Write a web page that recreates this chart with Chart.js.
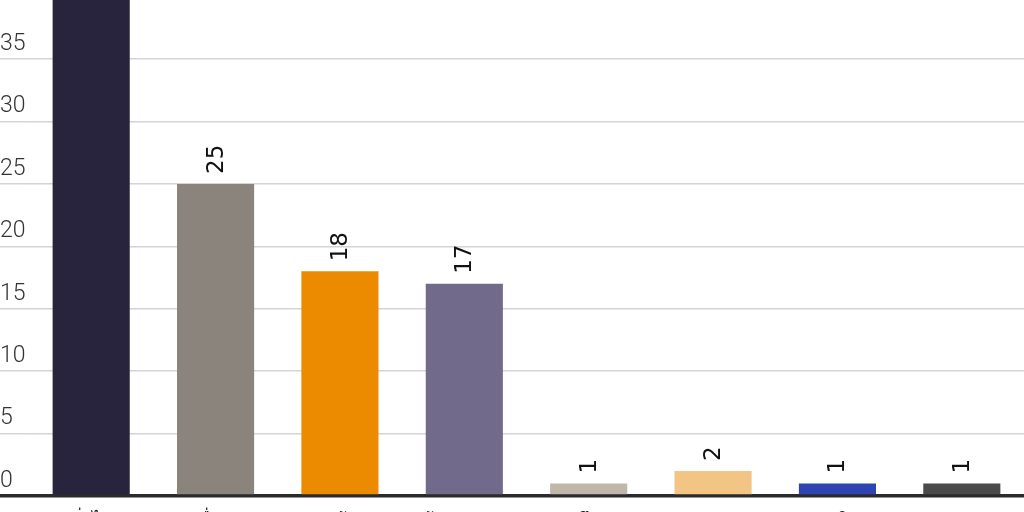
<!DOCTYPE html>
<html>
<head>
<meta charset="utf-8">
<script src="https://cdn.jsdelivr.net/npm/chart.js@4"></script>
<style>
  html, body { margin: 0; padding: 0; background: #fff; }
  #wrap { width: 1024px; height: 512px; overflow: hidden; }
</style>
</head>
<body>
<div id="wrap"><canvas id="barChart" width="1024" height="512"></canvas></div>
<script>
// categories (bottom labels are mostly cut off in the picture)
const categories = ['ทั่วไป', 'อื่นๆ', 'ลูกจ้าง', 'ข้าราชการ', 'นักศึกษา', 'เกษตรกร', 'ธุรกิจ', 'ว่างงาน'];
// first bar runs off the top of the picture, its value is a guess
const counts = [46, 25, 18, 17, 1, 2, 1, 1];
const barColors = ['#29243d', '#8b847c', '#ec8b00', '#716a8a', '#c0b6aa', '#f2c584', '#2e44b2', '#4a4a4a'];
const yTicks = [0, 5, 10, 15, 20, 25, 30, 35];
const yTop = 39.74;

// value labels, turned on their side above every bar
const valueLabels = {
    id: 'valueLabels',
    afterDatasetsDraw(chart) {
        const ctx = chart.ctx;
        const meta = chart.getDatasetMeta(0);
        ctx.save();
        ctx.font = '23px "DejaVu Sans", sans-serif';
        ctx.fillStyle = '#111';
        ctx.textAlign = 'left';
        ctx.textBaseline = 'middle';
        meta.data.forEach((bar, i) => {
            ctx.save();
            ctx.translate(bar.x + 1, bar.y - 10);
            ctx.rotate(-Math.PI / 2);
            ctx.fillText(String(counts[i]), 0, 0);
            ctx.restore();
        });
        ctx.restore();
    }
};

const isZero = (c) => c.tick && c.tick.value === 0;

new Chart(document.getElementById('barChart'), {
    type: 'bar',
    data: {
        labels: categories,
        datasets: [{
            data: counts,
            backgroundColor: barColors,
            borderWidth: 0,
            barPercentage: 0.62,
            categoryPercentage: 1,
            clip: 0
        }]
    },
    options: {
        responsive: false,
        animation: false,
        layout: {padding: 0},
        plugins: {
            legend: {display: false},
            tooltip: {enabled: false}
        },
        scales: {
            x: {
                grid: {display: false},
                border: {display: false},
                ticks: {
                    color: '#222',
                    padding: 6,
                    maxRotation: 0,
                    font: {family: '"Noto Sans", "DejaVu Sans", sans-serif', size: 18}
                },
                afterFit: (scale) => {
                    scale.height = 16;
                    scale.paddingLeft = 0;
                    scale.paddingRight = 0;
                }
            },
            y: {
                min: 0,
                max: yTop,
                afterBuildTicks: (scale) => { scale.ticks = yTicks.map(v => ({value: v})); },
                grid: {
                    color: (c) => isZero(c) ? '#2b2b2b' : '#d4d4d4',
                    tickColor: (c) => isZero(c) ? '#2b2b2b' : '#d4d4d4',
                    lineWidth: (c) => isZero(c) ? 3.5 : 1.5,
                    drawTicks: true,
                    tickLength: 29
                },
                border: {display: false},
                ticks: {
                    crossAlign: 'far',
                    labelOffset: -15,
                    padding: 0,
                    color: '#333',
                    font: {family: 'Roboto, "DejaVu Sans", sans-serif', size: 23, weight: 300}
                },
                afterFit: (scale) => {
                    scale.width = 29;
                    scale.paddingTop = 0;
                    scale.paddingBottom = 0;
                }
            }
        }
    },
    plugins: [valueLabels]
});
</script>
</body>
</html>
